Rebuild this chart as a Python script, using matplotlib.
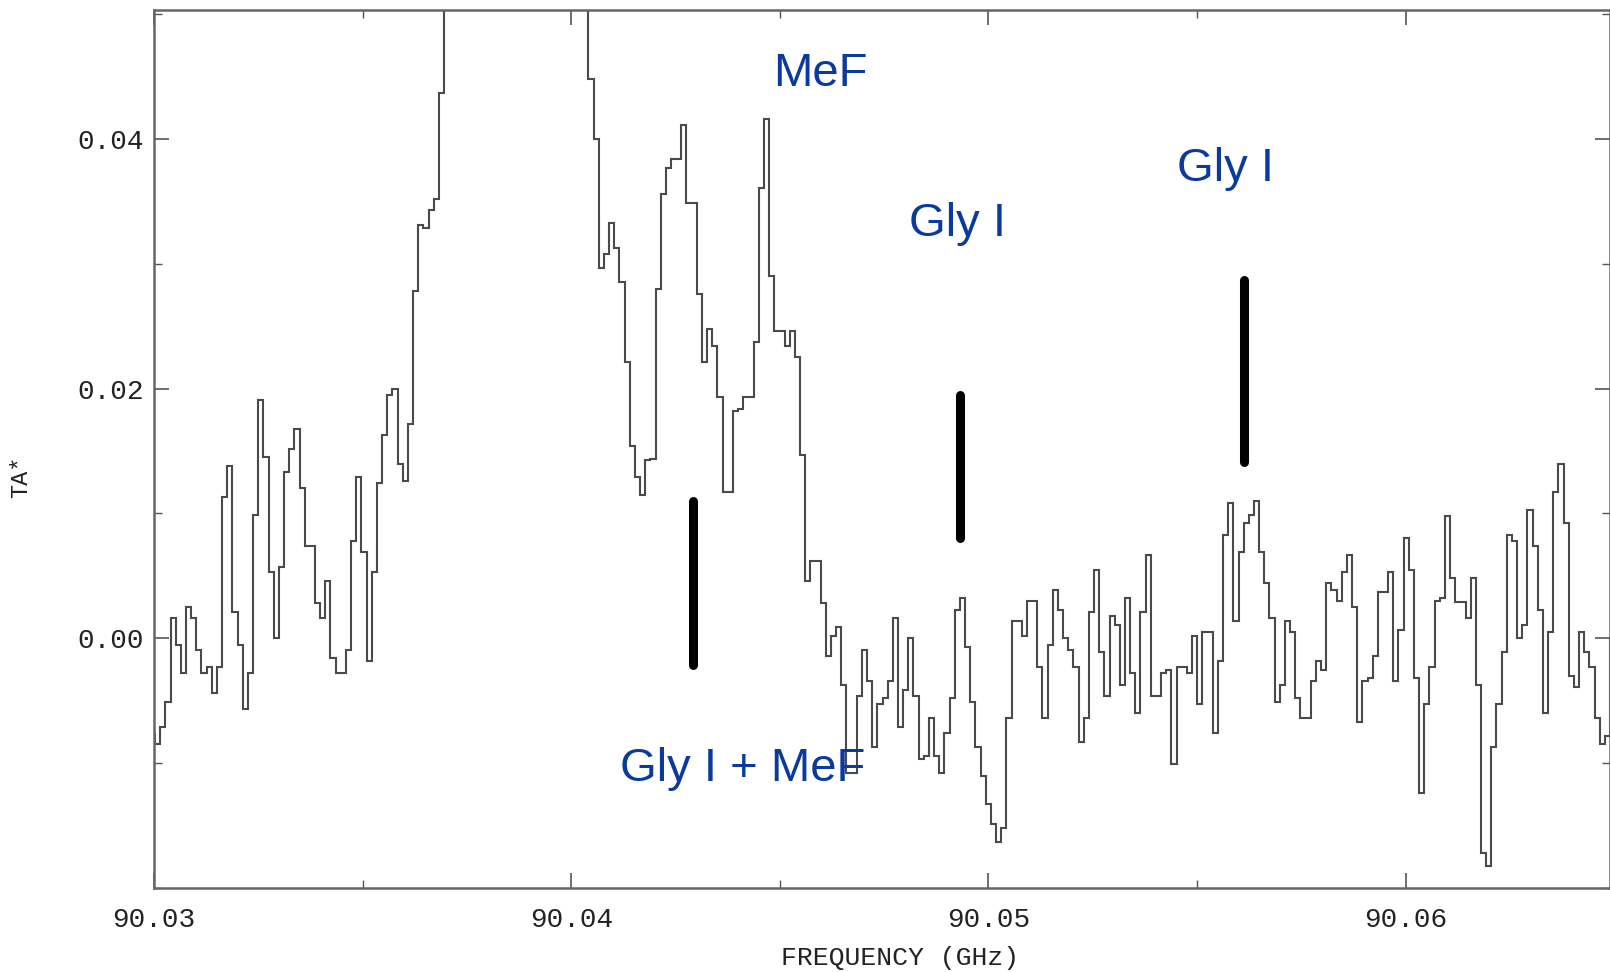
import matplotlib
matplotlib.use("Agg")
import matplotlib.pyplot as plt
import numpy as np
from matplotlib.ticker import MultipleLocator

# spectrum channels (mK); the strong line in the middle runs off the top
ta_mk = [
    -7.7, -8.5, -7.1, -5.1, 1.6, -0.5, -2.8, 2.5, 1.6, -0.9,
    -2.8, -2.3, -4.4, -2.3, 11.3, 13.8, 2.1, -0.5, -5.7, -2.8,
    9.9, 19.1, 14.5, 5.3, 0.0, 5.7, 13.3, 15.2, 16.8, 12.0,
    7.4, 7.4, 2.8, 1.6, 4.6, -1.6, -2.8, -2.8, -0.9, 7.8,
    12.9, 6.9, -1.8, 5.3, 12.4, 16.3, 19.5, 20.0, 14.0, 12.6,
    17.2, 27.8, 33.1, 32.9, 34.3, 35.2, 43.7,
    # clipped line core
    52, 58, 66, 76, 88, 101, 114, 126, 137, 146,
    153, 158, 160, 158, 153, 146, 137, 127, 117, 107,
    97, 88, 80, 73, 67, 62, 57, 53,
    44.8, 40.0, 29.7, 30.8, 33.3, 31.3, 28.5, 22.1, 15.4, 12.9,
    11.5, 14.3, 14.4, 28.0, 35.6, 37.7, 38.4, 38.4, 41.1, 34.9,
    34.9, 27.6,
    22.1, 24.8, 23.4, 19.3, 11.7, 11.7, 18.2, 18.4, 19.3, 19.3,
    23.7, 36.1, 41.6, 29.0, 24.6, 24.6, 23.4, 24.6, 22.5, 14.7,
    4.6, 6.2, 6.2, 2.8, -1.4, 0.2, 0.9, -3.7, -10.8, -10.8,
    -4.6, -0.9, -3.4, -8.7, -5.3, -4.8,
    -3.4, 1.6, -7.1, -4.1, 0.0, -4.6, -9.7, -9.4, -6.4, -9.4,
    -10.8, -7.6, -4.8, 2.3, 3.2, -0.7, -5.1, -8.7, -11.0, -13.3,
    -14.9, -16.3, -15.2, -6.4, 1.4, 1.4, 0.2, 3.0, 3.0, -2.3,
    -6.4, -0.5, 3.9, 2.3, 0.0, -0.9,
    -2.3, -8.3, -6.4, 2.1, 5.5, -1.1, -4.6, 1.8, 1.1, -3.7,
    3.2, -2.8, -6.0, 2.1, 6.7, -4.6, -4.6, -2.8, -2.5, -10.1,
    -2.3, -2.3, -2.8, 0.2, -5.3, 0.5, 0.5, -7.6, -1.8, 8.3,
    10.8, 1.4, 6.9, 9.2, 9.9, 11.0, 6.9,
    4.4, 1.6, -5.1, -3.7, 1.4, 0.5, -4.8, -6.4, -6.4, -3.4,
    -1.8, -2.5, 4.4, 3.9, 3.0, 5.3, 6.7, 2.5, -6.7, -3.4,
    -3.2, -1.4, 3.7, 3.7, 5.3, -3.4, 0.7, 8.0, 5.5, -3.2,
    -12.4, -5.3, -2.3, 3.0, 3.2,
    9.8, 4.8, 2.9, 2.9, 1.6, 4.8, -3.7, -17.2, -18.2, -8.7,
    -5.3, -1.1, 8.3, 7.8, 0.0, 1.1, 10.3, 7.4, 2.3, -6.0,
    0.5, 11.7, 14.0, 9.2, -3.0, -3.9, 0.5, -1.1, -2.3, -6.4,
    -8.5, -7.8,
]
f_start = 90.0299
f_stop = 90.0649

# line markers: frequency (GHz), bottom and top of the bar (K)
mark_freq = [90.04292, 90.04931, 90.05612]
mark_lo = [-0.0021, 0.0080, 0.0141]
mark_hi = [0.0110, 0.0195, 0.0287]

# labels: text, frequency, baseline (K)
label_text = ["MeF", "Gly I", "Gly I", "Gly I + MeF"]
label_freq = [90.04598, 90.04926, 90.05568, 90.04412]
label_base = [0.0442, 0.0322, 0.0366, -0.01146]

ta = np.array(ta_mk) / 1000.0
edges = np.linspace(f_start, f_stop, len(ta) + 1)

fig = plt.figure(figsize=(16.1, 9.72), dpi=100)
ax = fig.add_axes([0.0957, 0.0864, 0.9043, 0.9030])

ax.stairs(ta, edges, color="#4a4a4a", lw=1.5)

ax.vlines(mark_freq, mark_lo, mark_hi, color="black", lw=6.5, capstyle="round")

for txt, f, b in zip(label_text, label_freq, label_base):
    ax.text(f, b, txt, color="#0a3a9e", fontsize=34, ha="center", va="baseline",
            family=["Liberation Sans", "DejaVu Sans"])

ax.set_xlim(90.03, 90.0649)
ax.set_ylim(-0.02, 0.0503)

mono = ["Liberation Mono", "DejaVu Sans Mono"]
ax.xaxis.set_major_locator(MultipleLocator(0.01))
ax.xaxis.set_minor_locator(MultipleLocator(0.005))
ax.yaxis.set_major_locator(MultipleLocator(0.02))
ax.yaxis.set_minor_locator(MultipleLocator(0.01))
ax.set_xticks([90.03, 90.04, 90.05, 90.06])
ax.set_xticklabels(["90.03", "90.04", "90.05", "90.06"])
ax.set_yticks([0.0, 0.02, 0.04])
ax.set_yticklabels(["0.00", "0.02", "0.04"])
ax.tick_params(which="both", direction="in", top=True, right=True, colors="#555555",
               labelcolor="#222222", labelsize=20)
ax.tick_params(which="major", length=11, width=1.2)
ax.tick_params(which="minor", length=6, width=1.0)
ax.tick_params(axis="x", pad=14)
ax.tick_params(axis="y", pad=7)
for lab in ax.get_xticklabels() + ax.get_yticklabels():
    lab.set_family(mono)

for sp in ax.spines.values():
    sp.set_color("#666666")
    sp.set_linewidth(1.8)

ax.set_xlabel("FREQUENCY (GHz)", fontsize=19, family=mono, color="#222222")
ax.xaxis.set_label_coords(0.5127, -0.066)
ax.set_ylabel("TA*", fontsize=17, family=mono, color="#222222")
ax.yaxis.set_label_coords(-0.084, 0.468)

fig.savefig("out.png", dpi=100)
